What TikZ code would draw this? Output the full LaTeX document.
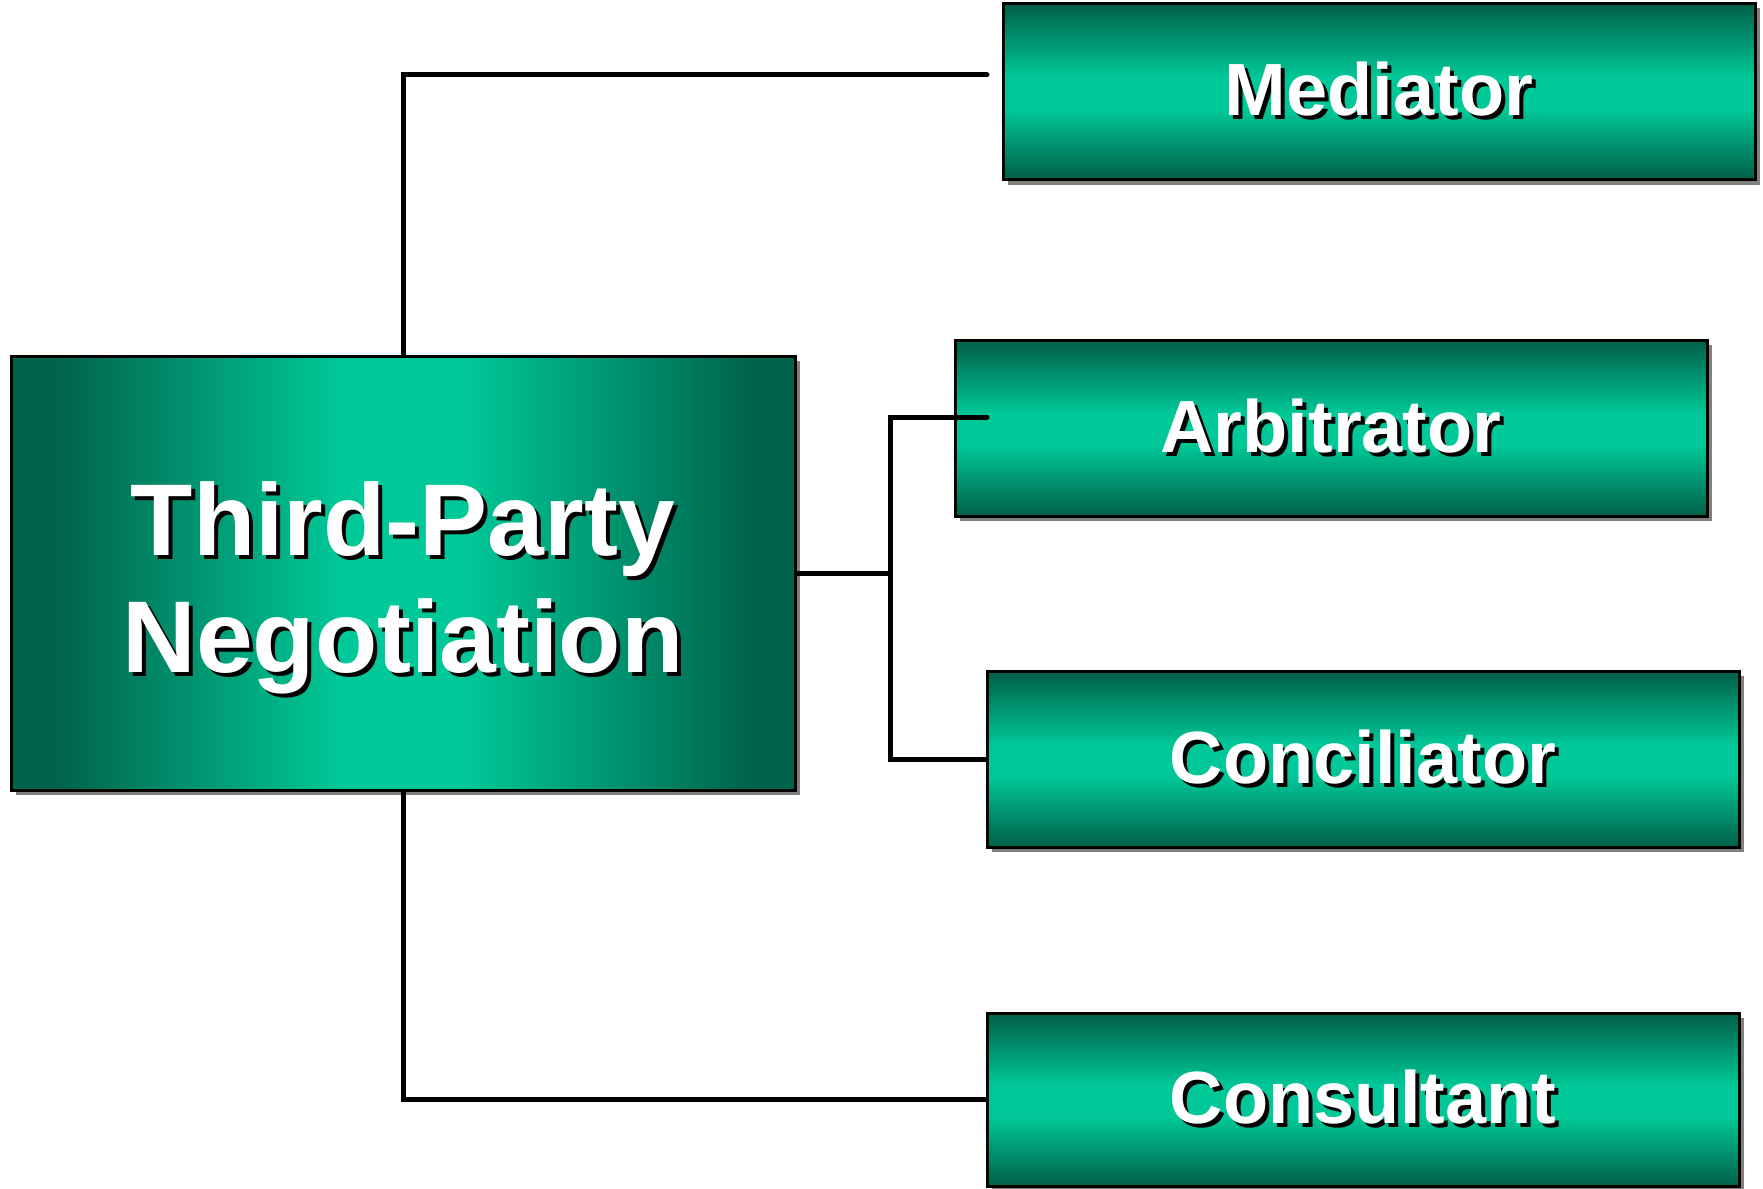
\documentclass[tikz,border=0pt]{standalone}
\usepackage{fontspec}
\setmainfont{Liberation Sans}
\usetikzlibrary{shadows}
\definecolor{tealdark}{RGB}{0,100,76}
\definecolor{teallight}{RGB}{0,200,152}
% left-to-right fade: dark at both sides, bright in the middle
\pgfdeclarehorizontalshading{rootfade}{100bp}{color(0bp)=(tealdark); color(28bp)=(tealdark);
  color(46bp)=(teallight); color(54bp)=(teallight); color(72bp)=(tealdark); color(100bp)=(tealdark)}
% bottom-to-top fade: dark at top and bottom, bright band in the middle
\pgfdeclareverticalshading{childfade}{100bp}{color(0bp)=(tealdark); color(26bp)=(tealdark);
  color(45bp)=(teallight); color(54bp)=(teallight); color(74bp)=(tealdark); color(100bp)=(tealdark)}
% white lettering with a black offset copy behind it
\newcommand\shadowed[1]{\leavevmode\rlap{\hspace*{4pt}\raisebox{-4pt}{\textcolor{black}{#1}}}#1}

\begin{document}
\begin{tikzpicture}[x=1pt,y=-1pt,
  box/.style={draw=black, line width=3pt, inner sep=0pt, text=white,
    font=\bfseries\fontsize{74}{80}\selectfont,
    drop shadow={shadow xshift=5pt, shadow yshift=-5pt, fill=gray, opacity=1}},
  childbox/.style={box, minimum width=752pt, minimum height=176pt, shading=childfade},
  rootbox/.style={box, minimum width=784pt, minimum height=434pt, shading=rootfade,
    align=center, font=\bfseries\fontsize{102}{117}\selectfont},
  link/.style={line width=5pt, line cap=round}
]
\useasboundingbox (0,0) rectangle (1763,1188);

% boxes
\node[rootbox] (root) at (403,573) {\rule{0pt}{108pt}\shadowed{Third-Party}\\\shadowed{Negotiation}};
\node[childbox] (med) at (1379,91.5) {\shadowed{Mediator}};
\node[childbox] (arb) at (1331,428) {\shadowed{Arbitrator}};
\node[childbox] (con) at (1363,759) {\shadowed{Conciliator}};
\node[childbox, minimum height=173pt] (cons) at (1363,1099.5) {\shadowed{Consultant}};

% connector ends and branching point
\coordinate (medEnd) at (987,75);
\coordinate (arbEnd) at (987,417);
\coordinate (fork) at (890,573);

% connectors
\draw[link] (root.north) |- (medEnd);
\draw[link] (root.east) -- (fork);
\draw[link] (fork) |- (arbEnd);
\draw[link] (fork) |- (con.west);
\draw[link] (root.south) |- (cons.west);
\end{tikzpicture}
\end{document}
